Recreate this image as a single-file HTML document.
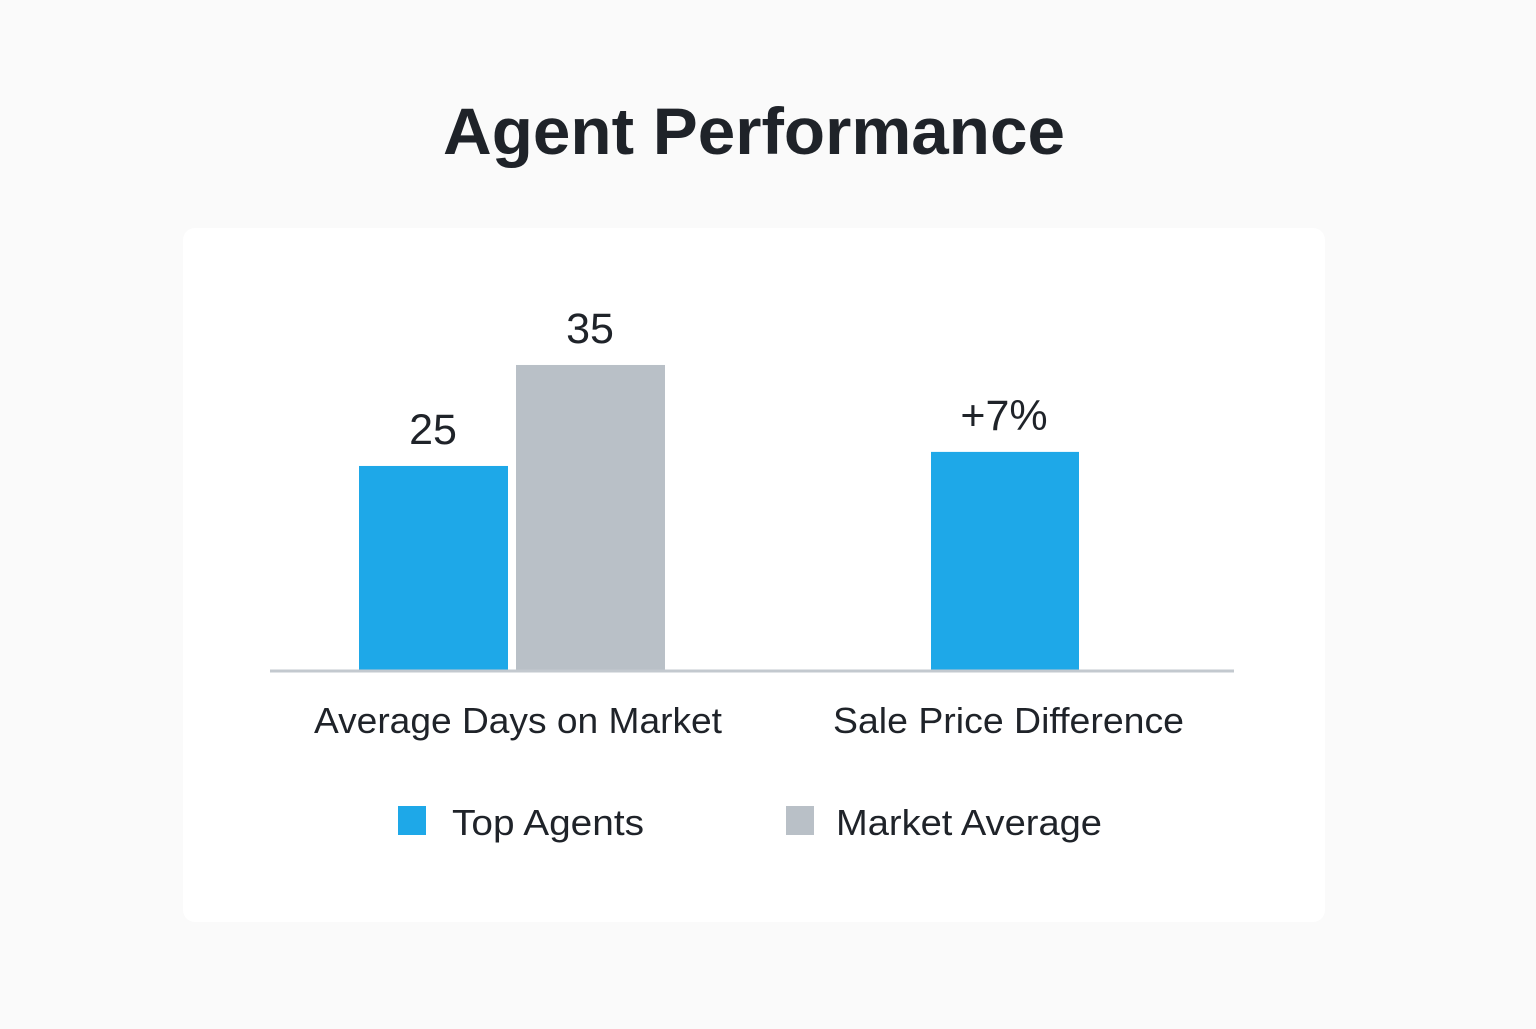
<!DOCTYPE html>
<html><head><meta charset="utf-8"><style>
html,body{margin:0;padding:0;background:#fafafa;}
body{width:1536px;height:1024px;overflow:hidden;font-family:"Liberation Sans",sans-serif;}
</style></head><body>
<svg id="chart" width="1536" height="1024" xmlns="http://www.w3.org/2000/svg" style="font-family:'Liberation Sans',sans-serif">
<rect x="183" y="228" width="1142" height="694" rx="12" fill="#ffffff"/>
<text x="443" y="154" textLength="622" lengthAdjust="spacingAndGlyphs" font-size="66" font-weight="bold" fill="#1f2329">Agent Performance</text>
<g id="marks"></g>
<line x1="270" y1="671" x2="1234" y2="671" stroke="#c3c9cf" stroke-width="3"/>
<text x="314" y="733" textLength="408" lengthAdjust="spacingAndGlyphs" font-size="36" fill="#1f2329">Average Days on Market</text>
<text x="833" y="733" textLength="351" lengthAdjust="spacingAndGlyphs" font-size="36" fill="#1f2329">Sale Price Difference</text>
<g>
<rect x="398" y="806" width="28" height="29" fill="#1ea8e8"/>
<text x="452" y="835" textLength="192" lengthAdjust="spacingAndGlyphs" font-size="36" fill="#1f2329">Top Agents</text>
<rect x="786" y="806" width="28" height="29" fill="#b9c0c7"/>
<text x="836" y="835" textLength="266" lengthAdjust="spacingAndGlyphs" font-size="36" fill="#1f2329">Market Average</text>
</g>
</svg>
<script>
const daysSeries = ["Top Agents","Market Average"];
const daysValues = [25, 35];
const daysLabels = ["25","35"];
const priceValues = [7];
const priceLabels = ["+7%"];

const NS="http://www.w3.org/2000/svg";
const baseY=671;
function yDays(v){return baseY-(v-4.7)*10.1;}
function yPct(v){return baseY-v*31.3;}
const g=document.getElementById('marks');
const colors=["#1ea8e8","#b9c0c7"];
const daysX=[359,516];
function bar(x,w,top,fill,name){
  const r=document.createElementNS(NS,'rect');
  r.setAttribute('x',x);r.setAttribute('y',top);r.setAttribute('width',w);r.setAttribute('height',baseY-top);r.setAttribute('fill',fill);
  
  
  g.appendChild(r);
}
function label(x,y,t,name){
  const e=document.createElementNS(NS,'text');
  e.setAttribute('x',x);e.setAttribute('y',y);e.setAttribute('text-anchor','middle');e.setAttribute('font-size','43');e.setAttribute('fill','#1f2329');
  e.textContent=t;
  
  
  g.appendChild(e);
}
daysValues.forEach((v,i)=>{
  const t=yDays(v);
  bar(daysX[i],149,t,colors[i],'bar-days-'+(i===0?'top-agents':'market-average'));
  label(daysX[i]+74,t-22,daysLabels[i],'value-label-days-'+(i===0?'top-agents':'market-average'));
});
priceValues.forEach((v,i)=>{
  const t=yPct(v);
  bar(931,148,t,colors[0],'bar-price-top-agents');
  label(1004,t-22,priceLabels[i],'value-label-price-top-agents');
});
</script>
</body></html>
